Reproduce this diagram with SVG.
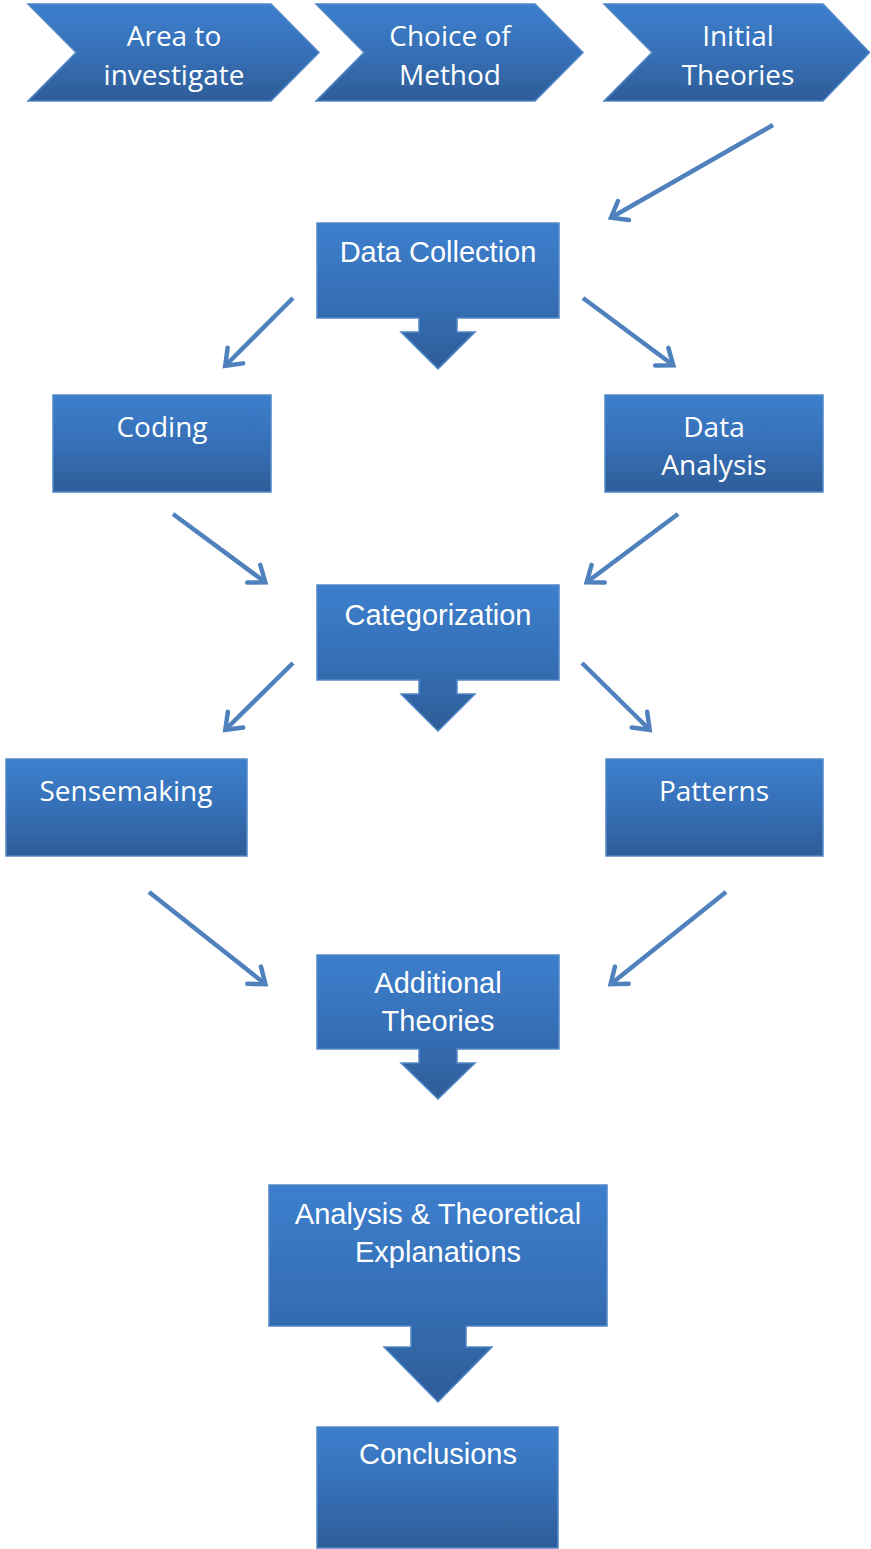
<svg xmlns="http://www.w3.org/2000/svg" width="871" height="1549" viewBox="0 0 871 1549">
<defs>
<linearGradient id="g" x1="0" y1="0" x2="0" y2="1">
<stop offset="0" stop-color="#3d7fcd"/>
<stop offset="0.5" stop-color="#3670b7"/>
<stop offset="1" stop-color="#2e5d98"/>
</linearGradient>
<marker id="ah" markerUnits="userSpaceOnUse" orient="auto" refX="-5" refY="0" markerWidth="30" markerHeight="30" overflow="visible">
<path d="M-19,-11 L-4.6,0 L-19,11" fill="none" stroke="#4f81bd" stroke-width="4.5" stroke-linecap="round" stroke-linejoin="miter"/>
</marker>
<style>
.s{fill:url(#g);stroke:#5286c6;stroke-width:1.5}
.c{stroke:#4f81bd;stroke-width:4.5;fill:none;marker-end:url(#ah)}
.tc{font-family:"Open Sans","DejaVu Sans",sans-serif;font-size:28px;fill:#ffffff;text-anchor:middle}
.ta{font-family:"Liberation Sans",Arial,sans-serif;font-size:29px;fill:#ffffff;text-anchor:middle}
</style>
</defs>
<rect width="871" height="1549" fill="#ffffff"/>

<g id="connectors">
<line class="c" x1="773" y1="125" x2="611.3" y2="217.5"/>
<line class="c" x1="293" y1="298" x2="225.5" y2="365.5"/>
<line class="c" x1="583" y1="298" x2="673" y2="365"/>
<line class="c" x1="173" y1="514" x2="265" y2="582"/>
<line class="c" x1="678" y1="514" x2="587" y2="582"/>
<line class="c" x1="293" y1="663" x2="225.6" y2="729.5"/>
<line class="c" x1="582" y1="663" x2="649.4" y2="729.5"/>
<line class="c" x1="149" y1="892" x2="265.1" y2="983.9"/>
<line class="c" x1="726" y1="892" x2="610.9" y2="983.9"/>
</g>

<g id="area">
<path class="s" d="M28,4 L271,4 L319,52.5 L271,101 L28,101 L76,52.5 Z"/>
<text class="tc" x="174" y="46">Area to</text>
<text class="tc" x="174" y="85">investigate</text>
</g>
<g id="choice">
<path class="s" d="M316,4 L535,4 L583,52.5 L535,101 L316,101 L364,52.5 Z"/>
<text class="tc" x="450" y="46">Choice of</text>
<text class="tc" x="450" y="85">Method</text>
</g>
<g id="initial">
<path class="s" d="M604,4 L823,4 L869.5,52.5 L823,101 L604,101 L652,52.5 Z"/>
<text class="tc" x="738" y="46">Initial</text>
<text class="tc" x="738" y="85">Theories</text>
</g>

<g id="datacollection">
<path class="s" d="M317,223 H559 V318 H457 V332 H475 L438,369 L401,332 H419 V318 H317 Z"/>
<text class="ta" x="438" y="262">Data Collection</text>
</g>

<g id="coding">
<rect class="s" x="53" y="395" width="218" height="97"/>
<text class="tc" x="162" y="437">Coding</text>
</g>
<g id="dataanalysis">
<rect class="s" x="605" y="395" width="218" height="97"/>
<text class="tc" x="714" y="437">Data</text>
<text class="tc" x="714" y="475">Analysis</text>
</g>

<g id="categorization">
<path class="s" d="M317,585 H559 V680 H457 V694 H475 L438,731 L401,694 H419 V680 H317 Z"/>
<text class="ta" x="438" y="625">Categorization</text>
</g>

<g id="sensemaking">
<rect class="s" x="6" y="759" width="241" height="97"/>
<text class="tc" x="126" y="801">Sensemaking</text>
</g>
<g id="patterns">
<rect class="s" x="606" y="759" width="217" height="97"/>
<text class="tc" x="714" y="801">Patterns</text>
</g>

<g id="additional">
<path class="s" d="M317,955 H559 V1049 H457 V1063 H475 L438,1099 L401,1063 H419 V1049 H317 Z"/>
<text class="ta" x="438" y="993">Additional</text>
<text class="ta" x="438" y="1031">Theories</text>
</g>

<g id="analysis">
<path class="s" d="M269,1185 H607 V1326 H466 V1347 H492 L438,1402 L384,1347 H411 V1326 H269 Z"/>
<text class="ta" x="438" y="1224">Analysis &amp; Theoretical</text>
<text class="ta" x="438" y="1262">Explanations</text>
</g>

<g id="conclusions">
<rect class="s" x="317" y="1427" width="241" height="121"/>
<text class="ta" x="438" y="1464">Conclusions</text>
</g>
</svg>
